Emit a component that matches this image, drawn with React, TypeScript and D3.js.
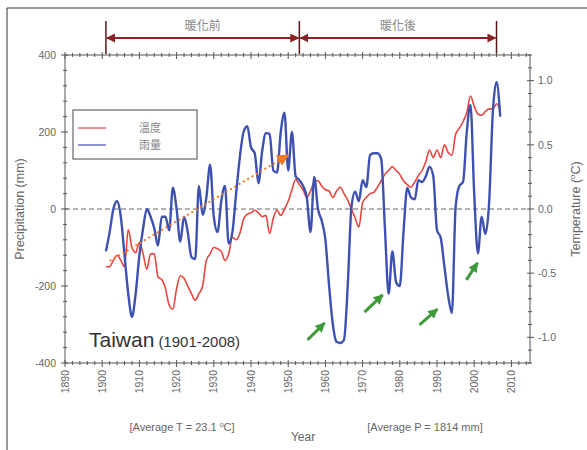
import React, { useEffect, useRef } from "react";
import * as d3 from "d3";

// yearly series, starting 1901
const firstYear = 1901;
const precipitation = [
  -110, -60, 0, 20, -20, -120, -220, -280, -220, -120,
  -50, 0, -20, -50, -95, -20, -20, -55, 55, 0,
  -85, -20, -60, -125, -130, 60, -15, 30, 115, -20,
  -60, 20, 60, -90, -60, 40, 135, 200, 215, 160,
  145, 67, 150, 197, 195, 100, 95, 200, 250, 100,
  200, 85, 75, 60, 30, -60, 83, 0, -30, -80,
  -200, -300, -345, -348, -340, -200, 5, 45, 20, 75,
  57, 140, 145, 145, 130, -50, -220, -110, -190, -200,
  -60, 55, 30, 25, 75, 70, 85, 110, 85, -55,
  -75, -150, -225, -270, 5, 60, 70, 200, 270, 40,
  -115, -20, -65, 15, 250, 330, 240,
];
const temperature = [
  -0.45, -0.45, -0.40, -0.36, -0.40, -0.45, -0.16, -0.30, -0.34, -0.26,
  -0.35, -0.47, -0.35, -0.35, -0.53, -0.55, -0.62, -0.75, -0.78, -0.62,
  -0.52, -0.54, -0.60, -0.66, -0.71, -0.66, -0.60, -0.40, -0.35, -0.30,
  -0.31, -0.33, -0.40, -0.35, -0.22, -0.24, -0.19, -0.08, -0.04, -0.03,
  -0.01, -0.03, -0.06, -0.05, -0.19, -0.07, -0.01, -0.05, 0.0, 0.06,
  0.15, 0.23, 0.19, 0.15, 0.09, 0.14, 0.21, 0.22, 0.18, 0.15,
  0.14, 0.09, 0.14, 0.17, 0.12, 0.07, 0.0, -0.07, -0.14, 0.05,
  0.09, 0.12, 0.13, 0.17, 0.22, 0.27, 0.30, 0.33, 0.30, 0.27,
  0.22, 0.19, 0.17, 0.21, 0.26, 0.30, 0.37, 0.46, 0.40, 0.46,
  0.40, 0.50, 0.44, 0.42, 0.58, 0.63, 0.68, 0.75, 0.88, 0.80,
  0.74, 0.73, 0.76, 0.78, 0.78, 0.82, 0.77,
];

const yearTicks = [1890, 1900, 1910, 1920, 1930, 1940, 1950, 1960, 1970, 1980, 1990, 2000, 2010];
const precipTicks = [-400, -200, 0, 200, 400];
const tempTicks = [-1.0, -0.5, 0.0, 0.5, 1.0];

const periodYears = [1901, 1953, 2006];
const periodLabels = ["暖化前", "暖化後"];
const legendLabels = ["溫度", "雨量"];

// dotted trend arrow [year, mm]
const trendLine = [[1902, -135], [1950, 140]];
// green arrows [[year, mm], [year, mm]]
const greenArrows = [
  [[1955.2, -340], [1959.8, -296]],
  [[1970.5, -268], [1975.4, -223]],
  [[1985.3, -301], [1990.1, -260]],
  [[1997.9, -184], [2000.9, -140]],
];

const FONT = "'Liberation Sans', Arial, sans-serif";
const CJK = "'Noto Sans CJK TC', sans-serif";

export default function App() {
  const ref = useRef<SVGSVGElement | null>(null);

  useEffect(() => {
    const svg = d3.select(ref.current);
    svg.selectAll("*").remove();

    const left = 65, right = 530, top = 55, bottom = 363;
    const x = d3.scaleLinear().domain([1890, 2015]).range([left, right]);
    const yP = d3.scaleLinear().domain([-400, 400]).range([bottom, top]);
    const yT = d3.scaleLinear().domain([-1.2, 1.2]).range([bottom, top]);

    const defs = svg.append("defs");
    const marker = (id: string, color: string, size: number) =>
      defs.append("marker").attr("id", id).attr("viewBox", "0 0 10 10")
        .attr("refX", 9).attr("refY", 5)
        .attr("markerWidth", size).attr("markerHeight", size)
        .attr("markerUnits", "userSpaceOnUse")
        .attr("orient", "auto-start-reverse")
        .append("path").attr("d", "M0,0 L10,5 L0,10 z").attr("fill", color);
    marker("arrRed", "#8a2323", 9);
    marker("arrGreen", "#3f9a3c", 10);
    marker("arrOrange", "#f07a22", 12);

    // figure border
    svg.append("path").attr("d", "M7,450 L7,8 L587,8")
      .attr("fill", "none").attr("stroke", "#333").attr("stroke-width", 1);

    // period bar
    const barY = 38;
    periodYears.forEach(yr => {
      svg.append("line").attr("x1", x(yr)).attr("x2", x(yr)).attr("y1", 21).attr("y2", 54)
        .attr("stroke", "#5a1a1a").attr("stroke-width", 1.5);
    });
    for (let i = 0; i < periodYears.length - 1; i++) {
      svg.append("line")
        .attr("x1", x(periodYears[i]) + 1).attr("x2", x(periodYears[i + 1]) - 1)
        .attr("y1", barY).attr("y2", barY)
        .attr("stroke", "#8a2323").attr("stroke-width", 2)
        .attr("marker-start", "url(#arrRed)").attr("marker-end", "url(#arrRed)");
      svg.append("text")
        .attr("x", (x(periodYears[i]) + x(periodYears[i + 1])) / 2).attr("y", 30)
        .attr("text-anchor", "middle").attr("font-size", 12)
        .attr("font-family", CJK).attr("fill", "#888")
        .text(periodLabels[i]);
    }

    // frame
    svg.append("rect").attr("x", left).attr("y", top)
      .attr("width", right - left).attr("height", bottom - top)
      .attr("fill", "none").attr("stroke", "#555").attr("stroke-width", 1);

    const g = svg.append("g").attr("stroke", "#555").attr("stroke-width", 1);
    // x ticks top and bottom
    d3.range(1890, 2015, 2).forEach(v => {
      const major = yearTicks.includes(v);
      [bottom, top].forEach(yy => {
        g.append("line").attr("x1", x(v)).attr("x2", x(v))
          .attr("y1", yy - (major ? 3 : 2)).attr("y2", yy + (major ? 4 : 2));
      });
    });
    // left ticks
    d3.range(-400, 401, 40).forEach(v => {
      const major = precipTicks.includes(v);
      g.append("line").attr("x1", left - (major ? 4 : 2)).attr("x2", left + (major ? 3 : 2))
        .attr("y1", yP(v)).attr("y2", yP(v));
    });
    // right ticks
    d3.range(-12, 13, 1).forEach(k => {
      const v = k / 10;
      const major = k % 5 === 0;
      g.append("line").attr("x1", right - (major ? 3 : 2)).attr("x2", right + (major ? 4 : 2))
        .attr("y1", yT(v)).attr("y2", yT(v));
    });

    const label = (sel: any) => sel.attr("font-family", FONT).attr("font-size", 10.5).attr("fill", "#666");
    yearTicks.forEach(v => {
      label(svg.append("text"))
        .attr("transform", `translate(${x(v)},370) rotate(-90)`)
        .attr("text-anchor", "end").attr("dy", "0.35em").text(v);
    });
    precipTicks.forEach(v => {
      label(svg.append("text")).attr("x", 56).attr("y", yP(v)).attr("dy", "0.35em")
        .attr("text-anchor", "end").text(v);
    });
    tempTicks.forEach(v => {
      label(svg.append("text")).attr("x", 538).attr("y", yT(v)).attr("dy", "0.35em")
        .text(d3.format(".1f")(v).replace("−", "-"));
    });

    // axis titles
    svg.append("text").attr("transform", `translate(24,${yP(0)}) rotate(-90)`)
      .attr("text-anchor", "middle").attr("font-family", FONT).attr("font-size", 12.5)
      .attr("fill", "#666").text("Precipitation (mm)");
    const tt = svg.append("text").attr("transform", `translate(580,${yP(0)}) rotate(-90)`)
      .attr("text-anchor", "middle").attr("font-family", FONT).attr("font-size", 12.5)
      .attr("fill", "#666");
    tt.append("tspan").text("Temperature (");
    tt.append("tspan").attr("font-size", 8).attr("dy", -5).text("o");
    tt.append("tspan").attr("dy", 5).text("C)");

    svg.append("text").attr("x", 303).attr("y", 441).attr("text-anchor", "middle")
      .attr("font-family", FONT).attr("font-size", 12).attr("fill", "#666").text("Year");
    const at = svg.append("text").attr("x", 182).attr("y", 431).attr("text-anchor", "middle")
      .attr("font-family", FONT).attr("font-size", 11).attr("fill", "#666");
    at.append("tspan").text("[Average T = 23.1 ");
    at.append("tspan").attr("font-size", 7).attr("dy", -4).text("o");
    at.append("tspan").attr("dy", 4).text("C]");
    svg.append("text").attr("x", 425).attr("y", 431).attr("text-anchor", "middle")
      .attr("font-family", FONT).attr("font-size", 11).attr("fill", "#666")
      .text("[Average P = 1814 mm]");

    // zero line
    svg.append("line").attr("x1", left).attr("x2", right).attr("y1", yP(0)).attr("y2", yP(0))
      .attr("stroke", "#666").attr("stroke-width", 1).attr("stroke-dasharray", "5,3");

    // legend
    svg.append("rect").attr("x", 73).attr("y", 110).attr("width", 124).attr("height", 49)
      .attr("fill", "white").attr("stroke", "#666").attr("stroke-width", 1.2);
    const legendColors = ["#e8453f", "#3d52b0"];
    legendLabels.forEach((lab, i) => {
      const ly = 128 + i * 17;
      svg.append("line").attr("x1", 78).attr("x2", 106).attr("y1", ly).attr("y2", ly)
        .attr("stroke", legendColors[i]).attr("stroke-width", 1.2);
      svg.append("text").attr("x", 150).attr("y", ly).attr("dy", "0.35em")
        .attr("text-anchor", "middle").attr("font-size", 11)
        .attr("font-family", CJK).attr("fill", "#888").text(lab);
    });

    // series
    const red = d3.line<number>().x((_, i) => x(firstYear + i)).y(d => yT(d)).curve(d3.curveMonotoneX);
    const blue = d3.line<number>().x((_, i) => x(firstYear + i)).y(d => yP(d)).curve(d3.curveMonotoneX);
    svg.append("path").attr("d", red(temperature)).attr("fill", "none")
      .attr("stroke", "#e8453f").attr("stroke-width", 1.6);
    svg.append("path").attr("d", blue(precipitation)).attr("fill", "none")
      .attr("stroke", "#3d52b0").attr("stroke-width", 2.4).attr("stroke-linejoin", "round");

    // trend arrow
    svg.append("line")
      .attr("x1", x(trendLine[0][0])).attr("y1", yP(trendLine[0][1]))
      .attr("x2", x(trendLine[1][0])).attr("y2", yP(trendLine[1][1]))
      .attr("stroke", "#f07a22").attr("stroke-width", 2).attr("stroke-dasharray", "2,3")
      .attr("marker-end", "url(#arrOrange)");

    // green arrows
    greenArrows.forEach(([a, b]) => {
      svg.append("line").attr("x1", x(a[0])).attr("y1", yP(a[1]))
        .attr("x2", x(b[0])).attr("y2", yP(b[1]))
        .attr("stroke", "#3f9a3c").attr("stroke-width", 3)
        .attr("marker-end", "url(#arrGreen)");
    });

    // title
    const t = svg.append("text").attr("x", 89).attr("y", 347).attr("font-family", FONT).attr("fill", "#333");
    t.append("tspan").attr("font-size", 21).text("Taiwan");
    t.append("tspan").attr("font-size", 15).attr("dx", 4).text("(1901-2008)");
  }, []);

  return (
    <div style={{ position: "absolute", left: 0, top: 0 }}>
      <svg ref={ref} width={587} height={450} style={{ display: "block", background: "white" }} />
    </div>
  );
}
